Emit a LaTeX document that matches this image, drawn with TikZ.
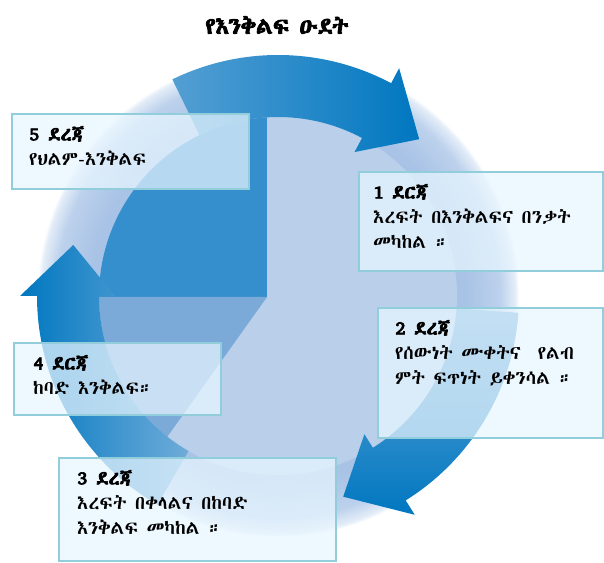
\documentclass[tikz,border=0pt]{standalone}
\usepackage{fontspec}
\usepackage{xcolor}
\usetikzlibrary{calc,positioning}
\newfontfamily\ethfont{Abyssinica SIL}[BoldFont=Abyssinica SIL,BoldFeatures={FakeBold=3.5}]

\definecolor{arrowblue}{HTML}{0077C0}
\definecolor{darkslice}{HTML}{358FCD}
\definecolor{midslice}{HTML}{7BAAD9}
\definecolor{lightdisc}{HTML}{B9CFEA}
\definecolor{boxline}{HTML}{92CDDC}
\definecolor{boxfill}{HTML}{E8F6FF}
\definecolor{ringin}{HTML}{A9C3E6}
\definecolor{ringmid}{HTML}{BCD1EC}
\definecolor{ringout}{HTML}{E4EDF8}
\pgfdeclareradialshading{ringshade}{\pgfpoint{0bp}{0bp}}{color(0bp)=(ringin); color(19.5bp)=(ringin); color(23bp)=(ringmid); color(24.6bp)=(ringout); color(25bp)=(white); color(50bp)=(white)}

\tikzset{
  stagebox/.style={draw=boxline, line width=2.2pt, fill=boxfill, fill opacity=0.72, inner sep=0pt, anchor=north west},
  stagetext/.style={font=\ethfont\fontsize{19}{25}\selectfont, align=left, inner sep=0pt, anchor=north west}
}

\begin{document}
\begin{tikzpicture}[x=1pt,y=1pt]
  \useasboundingbox (0,0) rectangle (604,562);
  \coordinate (C) at (278,266);
  \coordinate (P) at (267,265);

  % ring and disc
  \shade[shading=ringshade] (C) circle[radius=241];
  \fill[lightdisc] (C) circle[radius=179];
  \begin{scope}
    \clip (C) circle[radius=179];
    \fill[darkslice] (P) rectangle ++(-220,220);
    \fill[midslice] (P) -- ++(-220,0) -- ++(0,-240) -- ($(P)+(234.5:300)$) -- cycle;
  \end{scope}

  % arrows
  \shade[left color=arrowblue!55!lightdisc, middle color=arrowblue!92!white, right color=arrowblue]
    ($(C)+(116:241)$) arc[start angle=116, end angle=62, radius=241]
    -- ($(C)+(62:258)$) -- ($(C)+(48:211)$) -- ($(C)+(62:163)$) -- ($(C)+(62:179)$)
    arc[start angle=62, end angle=116, radius=179] -- cycle;
  \shade[top color=arrowblue!45!lightdisc, middle color=arrowblue!92!white, bottom color=arrowblue]
    ($(C)+(-4:241)$) arc[start angle=-4, end angle=-58, radius=241]
    -- ($(C)+(-58:258)$) -- ($(C)+(-72:211)$) -- ($(C)+(-58:163)$) -- ($(C)+(-58:179)$)
    arc[start angle=-58, end angle=-4, radius=179] -- cycle;
  \shade[left color=arrowblue, middle color=arrowblue!75!white, right color=arrowblue!40!lightdisc]
    ($(C)+(240:241)$) arc[start angle=240, end angle=180, radius=241]
    -- ($(C)+(180:258)$) -- ($(C)+(166:211)$) -- ($(C)+(180:163)$) -- ($(C)+(180:179)$)
    arc[start angle=180, end angle=240, radius=179] -- cycle;

  % title
  \node[font=\ethfont\bfseries\fontsize{23}{26}\selectfont] (title) at (277,537) {የእንቅልፍ ዑደት};

  % stages
  \node[stagebox, minimum width=237pt, minimum height=75pt] (s5) at (11,449) {};
  \node[stagebox, minimum width=244pt, minimum height=99pt] (s1) at (358,391) {};
  \node[stagebox, minimum width=225pt, minimum height=130pt] (s2) at (377,255) {};
  \node[stagebox, minimum width=207pt, minimum height=72pt] (s4) at (13,220) {};
  \node[stagebox, minimum width=277pt, minimum height=103pt] (s3) at (58,105) {};

  \node[stagetext] (t5) at ([xshift=18pt, yshift=-13pt]s5.north west) {\textbf{5 ደረጃ}\\የህልም-እንቅልፍ};
  \node[stagetext] (t1) at ([xshift=15pt, yshift=-13pt]s1.north west) {\textbf{1 ደርጃ}\\እረፍት በእንቅልፍና በንቃት\\መካከል ።};
  \node[stagetext] (t2) at ([xshift=18pt, yshift=-13pt]s2.north west) {\textbf{2 ደረጃ}\\የሰውነት ሙቀትና~ የልብ\\ምት ፍጥነት ይቀንሳል ።};
  \node[stagetext] (t4) at ([xshift=20pt, yshift=-13pt]s4.north west) {\textbf{4 ደርጃ}\\ከባድ እንቅልፍ።};
  \node[stagetext] (t3) at ([xshift=19pt, yshift=-13pt]s3.north west) {\textbf{3 ደረጃ}\\እረፍት በቀላልና በከባድ\\እንቅልፍ መካከል ።};
\end{tikzpicture}
\end{document}
